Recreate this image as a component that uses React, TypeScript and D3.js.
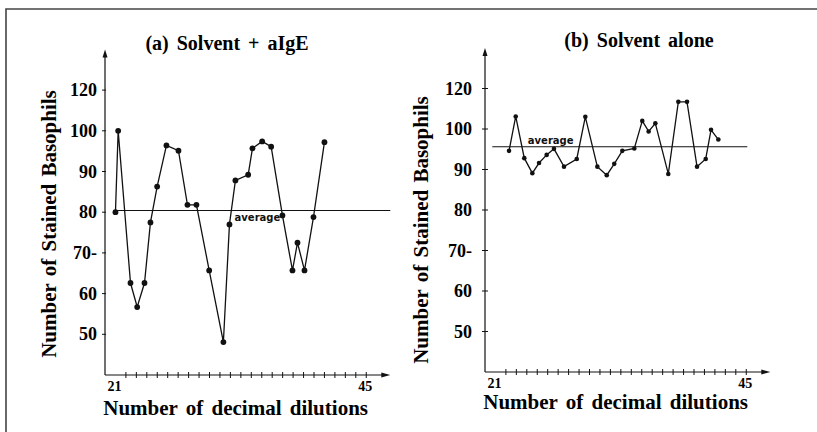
import * as d3 from 'd3';

// (a) Solvent + aIgE
const dilutionsA = [21.0, 21.26, 22.44, 23.08, 23.78, 24.35, 24.99, 25.88, 27.03, 27.89, 28.75, 29.97, 31.33, 31.91, 32.48, 33.7, 34.11, 35.04, 35.9, 36.98, 37.94, 38.42, 39.09, 39.95, 41.0];
const basophilsA = [80, 100, 62.6, 56.7, 62.6, 77.5, 86.3, 96.4, 95.1, 81.8, 81.8, 65.7, 48.1, 77, 87.8, 89.2, 95.7, 97.4, 96.1, 79.2, 65.7, 72.5, 65.7, 78.8, 97.2];
const averageA = 80.4;

// (b) Solvent alone
const dilutionsB = [22.3, 22.94, 23.76, 24.53, 25.17, 25.9, 26.6, 27.56, 28.78, 29.6, 30.75, 31.65, 32.37, 33.14, 34.29, 35.05, 35.66, 36.3, 37.54, 38.5, 39.33, 40.29, 41.12, 41.63, 42.33];
const basophilsB = [94.6, 103.1, 92.8, 89.1, 91.6, 93.6, 95.1, 90.7, 92.6, 103.0, 90.7, 88.6, 91.4, 94.6, 95.2, 102.0, 99.4, 101.4, 88.9, 106.7, 106.7, 90.7, 92.6, 99.8, 97.4];
const averageB = 95.6;

// the printed axis puts "120" one step above 100
const yTickValues = [110, 100, 90, 80, 70, 60, 50];
const yTickLabels = ['120', '100', '90', '80', '70-', '60', '50'];
const xTickValues = d3.range(22, 46);
const xEndLabels = [21, 45];

const serif = '"Liberation Serif", "DejaVu Serif", serif';
const sans = '"DejaVu Sans", "Liberation Sans", sans-serif';

interface PanelProps {
  title: string;
  xs: number[];
  ys: number[];
  avg: number;
  ox: number;
  oy: number;
  ky: number;
  r: number;
  titleX: number;
  titleY: number;
  yTitleX: number;
  yTitleY: number;
  xTitleY: number;
  tickOffset: number;
  crossTicks: boolean;
  avgFrom: number;
  avgTo: number;
  avgLabelAt: number;
  avgLabelDy: number;
}

function Panel(p: PanelProps) {
  const x = d3.scaleLinear().domain([20, 45]).range([p.ox, p.ox + 25 * 10.45]);
  const y = d3.scaleLinear().domain([40, 110]).range([p.oy, p.oy - 70 * p.ky]);
  const pts = p.xs.map((d, i) => [d, p.ys[i]] as [number, number]);
  const line = d3.line<[number, number]>().x(d => x(d[0])).y(d => y(d[1]));
  const yTop = y(120);
  const xEnd = x(47.3);
  const bold = { fontFamily: serif, fontWeight: 'bold' as const };

  return (
    <g>
      <text x={p.titleX} y={p.titleY} textAnchor="middle" fontSize={20}
        style={{ ...bold, wordSpacing: '3px' }}>{p.title}</text>

      {/* axes with arrow heads */}
      <line x1={p.ox} y1={p.oy} x2={p.ox} y2={yTop + 6} stroke="#111" strokeWidth={1.2} />
      <path d={`M${p.ox},${yTop} l-2.5,8 l5,0 z`} fill="#111" />
      <line x1={p.ox} y1={p.oy} x2={xEnd - 6} y2={p.oy} stroke="#111" strokeWidth={1.2} />
      <path d={`M${xEnd},${p.oy} l-9,-2.5 l0,5 z`} fill="#111" />

      {yTickValues.map((v, i) => (
        <g key={v}>
          <line x1={p.ox - 3} x2={p.ox + (p.crossTicks ? 3 : 1)} y1={y(v)} y2={y(v)} stroke="#111" strokeWidth={1} />
          <text x={p.ox - p.tickOffset} y={y(v) + 6} textAnchor="end" fontSize={18} style={bold}>
            {yTickLabels[i]}
          </text>
        </g>
      ))}

      {xTickValues.map(v => (
        <line key={v} x1={x(v)} x2={x(v)} y1={p.oy - 3} y2={p.oy + 3} stroke="#111" strokeWidth={1} />
      ))}
      {xEndLabels.map(v => (
        <text key={v} x={x(v) - 1} y={p.oy + 16} textAnchor="middle" fontSize={14} style={bold}>{v}</text>
      ))}

      <text transform={`translate(${p.yTitleX},${p.yTitleY}) rotate(-90)`} textAnchor="middle" fontSize={21}
        style={{ ...bold, wordSpacing: '2px' }}>Number of Stained Basophils</text>
      <text x={(x(20) + x(45)) / 2} y={p.xTitleY} textAnchor="middle" fontSize={21}
        style={{ ...bold, wordSpacing: '3px' }}>Number of decimal dilutions</text>

      {/* average level */}
      <line x1={x(p.avgFrom)} x2={x(p.avgTo)} y1={y(p.avg)} y2={y(p.avg)} stroke="#111" strokeWidth={1.1} />
      <text x={x(p.avgLabelAt)} y={y(p.avg) + p.avgLabelDy} fontSize={10} fill="#111"
        style={{ fontFamily: sans, fontWeight: 600 }}>average</text>

      <path d={line(pts) ?? ''} fill="none" stroke="#111" strokeWidth={1.3} />
      {pts.map((d, i) => (
        <circle key={i} cx={x(d[0])} cy={y(d[1])} r={p.r} fill="#111" />
      ))}
    </g>
  );
}

export default function App() {
  return (
    <div style={{ position: 'fixed', left: 0, top: 0 }}>
      <svg width={817} height={432} style={{ display: 'block', background: '#fff' }}>
        <path d="M6,432 L6,9 L817,9" fill="none" stroke="#444" strokeWidth={1.6} />
        <Panel title="(a) Solvent + aIgE" xs={dilutionsA} ys={basophilsA} avg={averageA}
          ox={105} oy={375} ky={4.07} r={2.9} titleX={227} titleY={50} yTitleX={56} yTitleY={224} xTitleY={415}
          tickOffset={8} crossTicks={false} avgFrom={20.8} avgTo={47.3} avgLabelAt={32.4} avgLabelDy={10} />
        <Panel title="(b) Solvent alone" xs={dilutionsB} ys={basophilsB} avg={averageB}
          ox={485} oy={372} ky={4.05} r={2.3} titleX={639} titleY={47} yTitleX={428} yTitleY={230} xTitleY={409}
          tickOffset={13} crossTicks={true} avgFrom={20.7} avgTo={45.1} avgLabelAt={24.1} avgLabelDy={-3} />
      </svg>
    </div>
  );
}
